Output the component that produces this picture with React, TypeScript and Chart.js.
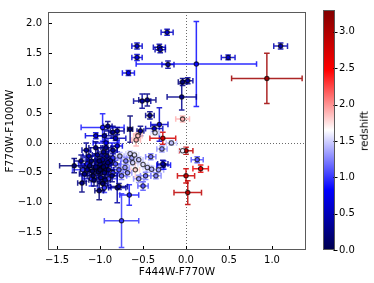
import React, { useEffect, useRef } from 'react';
import { Chart, registerables } from 'chart.js';

Chart.register(...registerables);

const FONT = "'DejaVu Sans', sans-serif";
const Z_MIN = 0;
const Z_MAX = 3.3;

const X_TICKS = [-1.5, -1.0, -0.5, 0.0, 0.5, 1.0];
const Y_TICKS = [-1.5, -1.0, -0.5, 0.0, 0.5, 1.0, 1.5, 2.0];
const CB_TICKS = [0.0, 0.5, 1.0, 1.5, 2.0, 2.5, 3.0];

// F444W-F770W colour
const colorX = [
  -1.20, -1.10, -0.90, -0.85, -1.15, -0.95, -0.78, -0.80, -0.93,
  -0.65, -0.77, -0.63, -0.62, -0.71, -0.59, -0.50, -0.41, -0.45, -0.40,
  -0.32, -0.26, -0.27, -0.47, -0.50, -0.66, -0.75, -0.80, -0.55, -0.60,
  -0.70, -0.82, -0.68, -0.75, -0.85, -0.55, -0.35,
  -1.30, -1.21, -1.01, -0.78, -1.15, -1.10, -1.08, -1.05, -1.02, -1.00,
  -0.98, -0.97, -0.95, -0.93, -0.92, -0.90, -0.88, -0.96, -1.03, -1.12,
  -1.18, -1.07, -0.99, -0.94, -1.13, -0.86, -0.93, -0.85, -1.05, -1.22,
  -1.16, -0.97, -1.00, -0.96, -1.01, -0.91, -1.09,
  -0.22, -0.57, -0.57, -0.31, -0.30, -0.21, 0.12, -0.67, 0.49, 1.10,
  0.94, -0.04, 0.02, -0.05, -0.51, -0.45, -0.42, -0.31, -0.37, -0.65,
  -0.91, -0.97, -0.95, -0.85, -1.05, -0.82, -0.80, -0.53,
  -0.27, -0.04, -0.36, -0.56, -0.58, -0.17, -0.28, 0.00, -0.04, 0.13,
  0.17, 0.00, 0.02,
];

// F770W-F1000W colour
const colorY = [
  -0.45, -0.60, -0.60, -0.25, -0.35, -0.75, -0.45, -0.05, 0.00,
  -0.18, -0.22, -0.25, -0.33, -0.41, -0.45, -0.36, -0.23, -0.41, -0.44,
  -0.45, -0.37, -0.35, -0.55, -0.72, -0.87, -1.30, -0.75, -0.28, -0.20,
  -0.30, -0.35, -0.50, -0.55, -0.50, -0.60, -0.55,
  -0.38, -0.67, -0.80, -0.73, -0.45, -0.30, -0.55, -0.40, -0.48, -0.35,
  -0.42, -0.28, -0.50, -0.38, -0.22, -0.45, -0.30, -0.15, -0.20, -0.38,
  -0.52, -0.62, -0.58, -0.62, -0.22, -0.55, -0.08, -0.12, -0.08, -0.30,
  -0.12, -0.68, -0.45, -0.40, -0.30, -0.33, -0.47,
  1.85, 1.62, 1.43, 1.60, 1.56, 1.31, 1.32, 1.17, 1.43, 1.62,
  1.08, 1.02, 1.04, 0.77, 0.70, 0.72, 0.46, 0.31, 0.24, 0.23,
  0.28, 0.26, 0.12, 0.18, 0.12, 0.08, 0.20, 0.20,
  0.08, 0.40, 0.17, 0.12, 0.05, 0.00, -0.10, -0.13, -0.13, -0.28,
  -0.43, -0.55, -0.83,
];

const errX = [
  0.12, 0.10, 0.10, 0.10, 0.10, 0.08, 0.08, 0.06, 0.15,
  0.05, 0.05, 0.06, 0.06, 0.05, 0.05, 0.06, 0.06, 0.05, 0.06,
  0.06, 0.08, 0.06, 0.06, 0.06, 0.11, 0.20, 0.10, 0.05, 0.05,
  0.06, 0.06, 0.05, 0.06, 0.05, 0.06, 0.06,
  0.17, 0.05, 0.05, 0.10, 0.08, 0.06, 0.07, 0.08, 0.07, 0.06,
  0.06, 0.08, 0.05, 0.06, 0.07, 0.06, 0.05, 0.06, 0.06, 0.06,
  0.06, 0.06, 0.05, 0.06, 0.07, 0.06, 0.06, 0.05, 0.08, 0.08,
  0.05, 0.06, 0.07, 0.05, 0.05, 0.05, 0.05,
  0.07, 0.06, 0.06, 0.07, 0.06, 0.07, 0.70, 0.07, 0.08, 0.08,
  0.41, 0.05, 0.06, 0.17, 0.10, 0.10, 0.05, 0.10, 0.10, 0.03,
  0.05, 0.25, 0.08, 0.05, 0.12, 0.12, 0.08, 0.04,
  0.15, 0.08, 0.05, 0.05, 0.05, 0.06, 0.06, 0.08, 0.05, 0.07,
  0.09, 0.10, 0.16,
];

const errY = [
  0.10, 0.12, 0.10, 0.10, 0.08, 0.08, 0.10, 0.10, 0.05,
  0.05, 0.06, 0.05, 0.05, 0.05, 0.12, 0.05, 0.05, 0.05, 0.05,
  0.05, 0.07, 0.06, 0.06, 0.07, 0.17, 0.45, 0.25, 0.05, 0.05,
  0.06, 0.06, 0.06, 0.06, 0.05, 0.06, 0.05,
  0.12, 0.15, 0.15, 0.05, 0.10, 0.08, 0.10, 0.12, 0.10, 0.08,
  0.10, 0.10, 0.08, 0.10, 0.08, 0.08, 0.07, 0.08, 0.12, 0.10,
  0.12, 0.10, 0.10, 0.10, 0.08, 0.10, 0.10, 0.06, 0.10, 0.10,
  0.12, 0.12, 0.08, 0.06, 0.07, 0.06, 0.06,
  0.05, 0.05, 0.05, 0.05, 0.05, 0.06, 0.71, 0.04, 0.04, 0.05,
  0.42, 0.06, 0.05, 0.22, 0.12, 0.10, 0.06, 0.28, 0.05, 0.22,
  0.08, 0.23, 0.10, 0.10, 0.05, 0.04, 0.06, 0.08,
  0.10, 0.05, 0.04, 0.05, 0.10, 0.04, 0.05, 0.06, 0.04, 0.05,
  0.06, 0.12, 0.20,
];

const redshift = [
  1.00, 0.95, 1.05, 1.00, 0.90, 1.00, 1.10, 0.70, 0.80,
  1.50, 1.40, 1.35, 1.50, 1.30, 1.80, 1.55, 1.20, 1.50, 1.40,
  1.35, 0.80, 0.40, 1.20, 1.10, 0.90, 1.00, 0.40, 1.45, 1.55,
  1.25, 1.10, 1.30, 1.20, 1.00, 1.30, 1.25,
  0.20, 0.25, 0.20, 0.30, 0.30, 0.20, 0.15, 0.25, 0.10, 0.35,
  0.20, 0.30, 0.25, 0.45, 0.30, 0.20, 0.40, 0.30, 0.35, 0.20,
  0.30, 0.20, 0.30, 0.25, 0.50, 0.30, 0.30, 0.35, 0.25, 0.30,
  0.35, 0.15, 0.05, 0.10, 0.15, 0.20, 0.12,
  0.55, 0.60, 0.65, 0.50, 0.45, 0.40, 0.85, 0.75, 0.60, 0.45,
  3.10, 0.20, 0.35, 0.30, 0.35, 0.25, 0.30, 0.60, 0.50, 0.20,
  0.30, 0.90, 0.40, 0.30, 0.70, 0.50, 0.35, 0.30,
  2.75, 1.90, 1.55, 1.85, 1.90, 1.45, 1.30, 2.90, 1.60, 1.10,
  2.60, 2.80, 2.90,
];

// matplotlib "seismic" colormap anchors
const SEISMIC = [
  [0.0, 0.0, 0.3],
  [0.0, 0.0, 1.0],
  [1.0, 1.0, 1.0],
  [1.0, 0.0, 0.0],
  [0.5, 0.0, 0.0],
];

function seismicRGB(t: number): number[] {
  const c = Math.max(0, Math.min(1, t));
  const s = c * 4;
  const i = Math.min(3, Math.floor(s));
  const f = s - i;
  const a = SEISMIC[i];
  const b = SEISMIC[i + 1];
  return a.map((v, k) => Math.round((v + (b[k] - v) * f) * 255));
}

function zColor(z: number, alpha = 1): string {
  const [r, g, b] = seismicRGB((z - Z_MIN) / (Z_MAX - Z_MIN));
  return `rgba(${r},${g},${b},${alpha})`;
}

function fmt(v: number): string {
  return Number(v).toFixed(1).replace('-', '\u2212');
}

const SPINE = '#5a5a5a';

const errorBarPlugin = {
  id: 'errorBars',
  beforeDatasetsDraw(chart: any) {
    const { ctx, chartArea, scales } = chart;
    const xs = scales.x;
    const ys = scales.y;
    ctx.save();
    ctx.beginPath();
    ctx.rect(chartArea.left, chartArea.top, chartArea.right - chartArea.left, chartArea.bottom - chartArea.top);
    ctx.clip();

    // reference dotted lines at 0
    ctx.strokeStyle = 'rgba(90,90,90,0.9)';
    ctx.lineWidth = 1;
    ctx.setLineDash([1, 2]);
    const x0 = Math.round(xs.getPixelForValue(0)) + 0.5;
    const y0 = Math.round(ys.getPixelForValue(0)) + 0.5;
    ctx.beginPath();
    ctx.moveTo(x0, chartArea.top);
    ctx.lineTo(x0, chartArea.bottom);
    ctx.moveTo(chartArea.left, y0);
    ctx.lineTo(chartArea.right, y0);
    ctx.stroke();
    ctx.setLineDash([]);

    const cap = 2.8;
    ctx.lineWidth = 1.5;
    for (let i = 0; i < colorX.length; i++) {
      const px = xs.getPixelForValue(colorX[i]);
      const py = ys.getPixelForValue(colorY[i]);
      const xl = xs.getPixelForValue(colorX[i] - errX[i]);
      const xr = xs.getPixelForValue(colorX[i] + errX[i]);
      const yt = ys.getPixelForValue(colorY[i] + errY[i]);
      const yb = ys.getPixelForValue(colorY[i] - errY[i]);
      ctx.strokeStyle = zColor(redshift[i], 0.85);
      ctx.beginPath();
      ctx.moveTo(xl, py);
      ctx.lineTo(xr, py);
      ctx.moveTo(xl, py - cap);
      ctx.lineTo(xl, py + cap);
      ctx.moveTo(xr, py - cap);
      ctx.lineTo(xr, py + cap);
      ctx.moveTo(px, yt);
      ctx.lineTo(px, yb);
      ctx.moveTo(px - cap, yt);
      ctx.lineTo(px + cap, yt);
      ctx.moveTo(px - cap, yb);
      ctx.lineTo(px + cap, yb);
      ctx.stroke();
    }
    ctx.restore();
  },
  afterDraw(chart: any) {
    const { ctx, chartArea, scales } = chart;
    const l = Math.round(chartArea.left) + 0.5;
    const t = Math.round(chartArea.top) + 0.5;
    const r = Math.round(chartArea.right) - 0.5;
    const b = Math.round(chartArea.bottom) - 0.5;
    ctx.save();
    ctx.strokeStyle = '#000';
    ctx.lineWidth = 1;
    ctx.beginPath();
    for (const v of X_TICKS) {
      const x = Math.round(scales.x.getPixelForValue(v)) + 0.5;
      ctx.moveTo(x, b);
      ctx.lineTo(x, b - 3.5);
    }
    for (const v of Y_TICKS) {
      const y = Math.round(scales.y.getPixelForValue(v)) + 0.5;
      ctx.moveTo(l, y);
      ctx.lineTo(l + 3.5, y);
    }
    ctx.stroke();
    ctx.strokeStyle = SPINE;
    ctx.strokeRect(l, t, r - l, b - t);
    ctx.restore();
  },
};

const colorbarPlugin = {
  id: 'colorbar',
  beforeDraw(chart: any) {
    const { ctx, chartArea } = chart;
    const g = ctx.createLinearGradient(0, chartArea.bottom, 0, chartArea.top);
    const steps = 20;
    for (let k = 0; k <= steps; k++) {
      const t = k / steps;
      const [r, gg, b] = seismicRGB(t);
      g.addColorStop(t, `rgb(${r},${gg},${b})`);
    }
    ctx.save();
    ctx.fillStyle = g;
    ctx.fillRect(chartArea.left, chartArea.top, chartArea.right - chartArea.left, chartArea.bottom - chartArea.top);
    ctx.restore();
  },
  afterDraw(chart: any) {
    const { ctx, chartArea, scales } = chart;
    const l = Math.round(chartArea.left) + 0.5;
    const t = Math.round(chartArea.top) + 0.5;
    const r = Math.round(chartArea.right) - 0.5;
    const b = Math.round(chartArea.bottom) - 0.5;
    ctx.save();
    ctx.strokeStyle = '#000';
    ctx.lineWidth = 1;
    ctx.beginPath();
    for (const v of CB_TICKS) {
      const y = Math.round(scales.y.getPixelForValue(v)) + 0.5;
      ctx.moveTo(r - 1, y);
      ctx.lineTo(r + 3, y);
    }
    ctx.stroke();
    ctx.strokeStyle = SPINE;
    ctx.strokeRect(l, t, r - l, b - t);
    ctx.restore();
  },
};

export default function App() {
  const mainRef = useRef<HTMLCanvasElement>(null);
  const cbRef = useRef<HTMLCanvasElement>(null);

  useEffect(() => {
    const tickFont = { family: FONT, size: 10 };
    const titleFont = { family: FONT, size: 10.5 };
    const main = new Chart(mainRef.current as HTMLCanvasElement, {
      type: 'scatter',
      data: {
        datasets: [
          {
            data: colorX.map((x, i) => ({ x, y: colorY[i] })),
            pointRadius: 2.2,
            pointHoverRadius: 2.2,
            pointBorderWidth: 1.1,
            pointBackgroundColor: redshift.map((z) => zColor(z)),
            pointBorderColor: 'rgba(0,0,0,0.7)',
          },
        ],
      },
      options: {
        responsive: false,
        animation: false,
        events: [],
        layout: { padding: { left: 0, top: 10, right: 68, bottom: 0 } },
        plugins: { legend: { display: false }, tooltip: { enabled: false } },
        scales: {
          x: {
            type: 'linear',
            min: -1.605,
            max: 1.395,
            afterBuildTicks: (s: any) => {
              s.ticks = X_TICKS.map((v) => ({ value: v }));
            },
            afterFit: (s: any) => {
              s.height = 33;
            },
            grid: { display: false, drawTicks: false, tickLength: 0 },
            border: { display: false },
            ticks: { padding: 4, color: '#000', font: tickFont, maxRotation: 0, autoSkip: false, callback: (v: any) => fmt(v) },
            title: { display: true, text: 'F444W-F770W', color: '#000', font: titleFont, padding: { top: 0, bottom: 4 } },
          },
          y: {
            type: 'linear',
            min: -1.79,
            max: 2.19,
            afterBuildTicks: (s: any) => {
              s.ticks = Y_TICKS.map((v) => ({ value: v }));
            },
            afterFit: (s: any) => {
              s.width = 48;
            },
            grid: { display: false, drawTicks: false, tickLength: 0 },
            border: { display: false },
            ticks: { padding: 6, color: '#000', font: tickFont, autoSkip: false, callback: (v: any) => fmt(v) },
            title: { display: true, text: 'F770W-F1000W', color: '#000', font: titleFont, padding: { top: 4, bottom: 0 } },
          },
        },
      },
      plugins: [errorBarPlugin],
    } as any);

    const cb = new Chart(cbRef.current as HTMLCanvasElement, {
      type: 'scatter',
      data: { datasets: [] },
      options: {
        responsive: false,
        animation: false,
        events: [],
        layout: { padding: { left: 323, top: 10, right: 0, bottom: 33 } },
        plugins: { legend: { display: false }, tooltip: { enabled: false } },
        scales: {
          x: { display: false, min: 0, max: 1 },
          y: {
            type: 'linear',
            position: 'right',
            min: Z_MIN,
            max: Z_MAX,
            afterBuildTicks: (s: any) => {
              s.ticks = CB_TICKS.map((v) => ({ value: v }));
            },
            afterFit: (s: any) => {
              s.width = 39;
            },
            grid: { display: false, drawTicks: false, tickLength: 0 },
            border: { display: false },
            ticks: { padding: 4, color: '#000', font: tickFont, autoSkip: false, callback: (v: any) => fmt(v) },
          },
        },
      },
      plugins: [colorbarPlugin],
    } as any);

    return () => {
      main.destroy();
      cb.destroy();
    };
  }, []);

  return (
    <div style={{ position: 'absolute', left: 0, top: 0, width: 374, height: 283, background: '#fff' }}>
      <canvas ref={mainRef} width={374} height={283} style={{ position: 'absolute', left: 0, top: 0 }} />
      <canvas ref={cbRef} width={374} height={283} style={{ position: 'absolute', left: 0, top: 0 }} />
      <div
        style={{
          position: 'absolute',
          left: 364,
          top: 131,
          transform: 'translate(-50%, -50%) rotate(-90deg)',
          fontFamily: FONT,
          fontSize: 10.5,
          color: '#000',
          whiteSpace: 'nowrap',
          lineHeight: 1,
        }}
      >
        redshift
      </div>
    </div>
  );
}
